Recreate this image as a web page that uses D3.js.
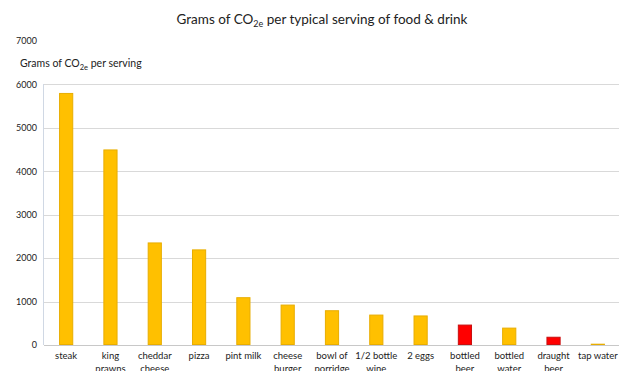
<!DOCTYPE html>
<html>
<head>
<meta charset="utf-8">
<script src="https://cdn.jsdelivr.net/npm/d3@7"></script>
<style>
  html, body { margin: 0; padding: 0; background: #fff; }
  svg { display: block; font-family: Lato, "Open Sans", sans-serif; }
</style>
</head>
<body>
<svg id="chart" width="619" height="371"></svg>
<script>
// Carbon footprint of everyday food and drink, grams CO2e per serving
const items = [
  ["steak"], ["king", "prawns"], ["cheddar", "cheese"], ["pizza"], ["pint milk"],
  ["cheese", "burger"], ["bowl of", "porridge"], ["1/2 bottle", "wine"], ["2 eggs"],
  ["bottled", "beer"], ["bottled", "water"], ["draught", "beer"], ["tap water"]
];
const grams = [5800, 4500, 2360, 2200, 1100, 930, 800, 700, 680, 470, 400, 190, 30];
const isBeer = [false, false, false, false, false, false, false, false, false, true, false, true, false];
const yTicks = [0, 1000, 2000, 3000, 4000, 5000, 6000, 7000];

const svg = d3.select("#chart");
const plotLeft = 44, plotRight = 620, plotTop = 40.8, plotBottom = 345;

const x = d3.scaleBand()
  .domain(d3.range(items.length))
  .range([plotLeft, plotRight])
  .paddingInner(0.68)
  .paddingOuter(0.34);

const y = d3.scaleLinear().domain([0, 7000]).range([plotBottom, plotTop]);

// horizontal gridlines
svg.append("g")
  .selectAll("line")
  .data(yTicks.filter(t => t > 0 && t < 7000))
  .join("line")
  .attr("x1", plotLeft).attr("x2", 619)
  .attr("y1", d => Math.round(y(d)) + 0.5).attr("y2", d => Math.round(y(d)) + 0.5)
  .attr("stroke", "#d9d9d9").attr("stroke-width", 1);

// y axis line
svg.append("line")
  .attr("x1", plotLeft - 0.5).attr("x2", plotLeft - 0.5)
  .attr("y1", Math.round(y(6000))).attr("y2", plotBottom)
  .attr("stroke", "#d0d8e4");

// y tick labels
const yAxis = d3.axisLeft(y).tickValues(yTicks).tickSize(0).tickPadding(7).tickFormat(d3.format("d"));
const gy = svg.append("g").attr("transform", `translate(${plotLeft},0)`).call(yAxis);
gy.select(".domain").remove();
gy.selectAll("text").attr("font-size", 9).attr("fill", "#222").attr("font-family", "Lato, sans-serif");

// bars
svg.append("g")
  .selectAll("rect")
  .data(grams)
  .join("rect")
  .attr("x", (d, i) => x(i) + 0.5)
  .attr("width", x.bandwidth() - 1)
  .attr("y", d => y(d) + 0.5)
  .attr("height", d => Math.max(0, plotBottom - y(d) - 1))
  .attr("fill", (d, i) => isBeer[i] ? "#ff0000" : "#ffc000")
  .attr("stroke", (d, i) => isBeer[i] ? "#c81010" : "#e8ad00")
  .attr("stroke-width", 1);

// baseline
svg.append("line")
  .attr("x1", plotLeft).attr("x2", 619)
  .attr("y1", plotBottom + 0.5).attr("y2", plotBottom + 0.5)
  .attr("stroke", "#c8c8c8");

// category labels
const xl = svg.append("g").attr("font-size", 9.5).attr("fill", "#222").attr("text-anchor", "middle");
items.forEach((lines, i) => {
  const cx = x(i) + x.bandwidth() / 2;
  const t = xl.append("text").attr("x", cx).attr("y", 359);
  lines.forEach((s, k) => t.append("tspan").attr("x", cx).attr("dy", k ? 12.5 : 0).text(s));
});

// chart title
const title = svg.append("text")
  .attr("x", 322).attr("y", 24)
  .attr("text-anchor", "middle")
  .attr("font-size", 13.5).attr("fill", "#222");
title.append("tspan").text("Grams of CO");
title.append("tspan").attr("font-size", 9).attr("dy", 3).text("2e");
title.append("tspan").attr("dy", -3).text(" per typical serving of food & drink");

// y axis title
const ytitle = svg.append("text")
  .attr("x", 20).attr("y", 67)
  .attr("font-size", 10.5).attr("fill", "#222");
ytitle.append("tspan").text("Grams of CO");
ytitle.append("tspan").attr("font-size", 7.5).attr("dy", 2.5).text("2e");
ytitle.append("tspan").attr("dy", -2.5).text(" per serving");
</script>
</body>
</html>
